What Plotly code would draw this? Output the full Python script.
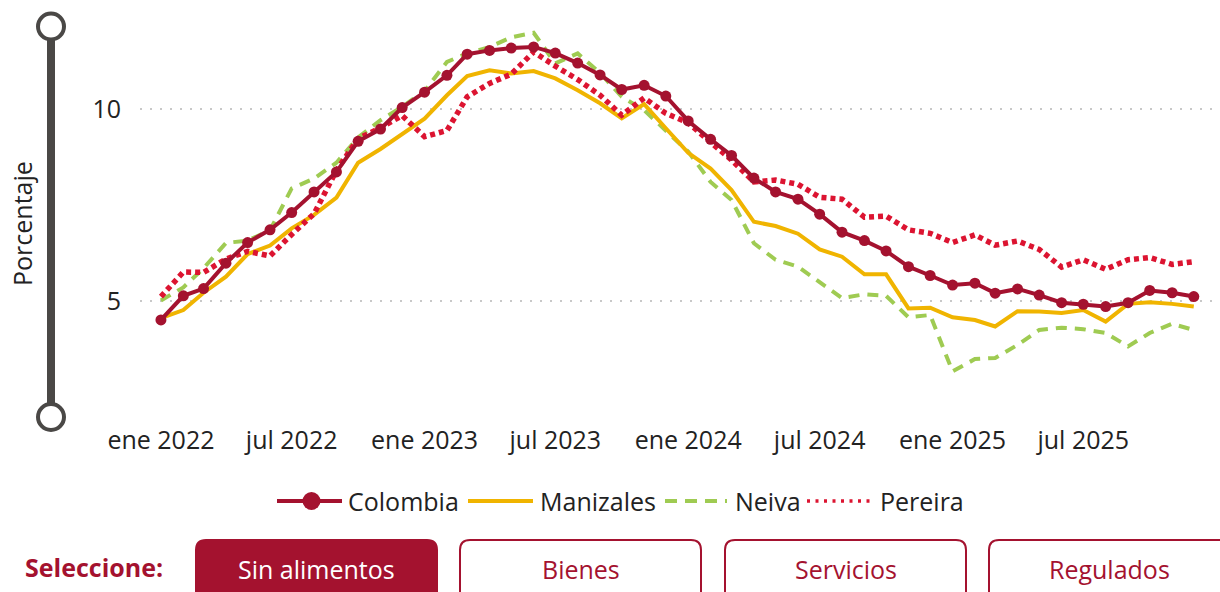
import pandas as pd
import plotly.graph_objects as go

# ---------------- data ----------------
months = pd.date_range("2022-01-01", "2025-12-01", freq="MS").strftime("%Y-%m-%d").tolist()

colombia = [4.51, 5.14, 5.33, 5.99, 6.53, 6.86, 7.31, 7.85, 8.37, 9.17, 9.49, 10.05,
            10.45, 10.89, 11.44, 11.54, 11.60, 11.63, 11.47, 11.21, 10.90, 10.52, 10.63, 10.35,
            9.70, 9.22, 8.80, 8.21, 7.85, 7.66, 7.27, 6.80, 6.58, 6.31, 5.90, 5.67,
            5.42, 5.47, 5.21, 5.32, 5.16, 4.96, 4.92, 4.86, 4.96, 5.28, 5.22, 5.12]

manizales = [4.56, 4.77, 5.22, 5.64, 6.23, 6.45, 6.90, 7.25, 7.70, 8.61, 8.97, 9.35,
             9.76, 10.37, 10.87, 11.02, 10.94, 11.00, 10.81, 10.50, 10.16, 9.77, 10.14, 9.51,
             8.87, 8.46, 7.90, 7.07, 6.96, 6.76, 6.35, 6.16, 5.70, 5.70, 4.81, 4.83,
             4.58, 4.51, 4.34, 4.74, 4.73, 4.69, 4.77, 4.47, 4.93, 4.97, 4.93, 4.86]

neiva = [5.02, 5.36, 5.86, 6.52, 6.58, 6.85, 7.94, 8.20, 8.61, 9.27, 9.72, 10.07,
         10.48, 11.24, 11.46, 11.63, 11.88, 12.00, 11.20, 11.46, 10.95, 10.33, 9.98, 9.46,
         8.90, 8.11, 7.64, 6.51, 6.08, 5.90, 5.51, 5.08, 5.18, 5.14, 4.58, 4.64,
         3.17, 3.49, 3.52, 3.86, 4.25, 4.31, 4.27, 4.17, 3.82, 4.17, 4.41, 4.25]

pereira = [5.12, 5.76, 5.75, 6.10, 6.30, 6.18, 6.74, 7.28, 8.41, 9.24, 9.52, 9.84,
           9.29, 9.45, 10.33, 10.68, 10.92, 11.50, 11.13, 10.78, 10.37, 9.85, 10.30, 9.90,
           9.65, 9.16, 8.68, 8.11, 8.16, 8.05, 7.71, 7.66, 7.19, 7.22, 6.86, 6.77,
           6.53, 6.73, 6.46, 6.57, 6.35, 5.89, 6.08, 5.83, 6.08, 6.14, 5.96, 6.03]

tick_dates = ["2022-01-01", "2022-07-01", "2023-01-01", "2023-07-01",
              "2024-01-01", "2024-07-01", "2025-01-01", "2025-07-01"]
tick_labels = ["ene 2022", "jul 2022", "ene 2023", "jul 2023",
               "ene 2024", "jul 2024", "ene 2025", "jul 2025"]

series_names = ["Colombia", "Manizales", "Neiva", "Pereira"]
buttons = ["Sin alimentos", "Bienes", "Servicios", "Regulados"]

# ---------------- style ----------------
W, H = 1220, 592
L, R, T, B = 140, 1214, 27, 417
FONT = "Open Sans"
FS = 25
C_COL = "#a4122f"
C_MAN = "#f0b400"
C_NEI = "#9fcb52"
C_PER = "#dc1431"
TXT = "#222222"
AXC = "#4a4846"


def px(x):
    return (x - L) / (R - L)


def py(y):
    return (B - y) / (B - T)


fig = go.Figure()
fig.add_trace(go.Scatter(x=months, y=neiva, name=series_names[2], mode="lines",
                         line=dict(color=C_NEI, width=4, dash="11px,8px"), showlegend=False))
fig.add_trace(go.Scatter(x=months, y=manizales, name=series_names[1], mode="lines",
                         line=dict(color=C_MAN, width=4), showlegend=False))
fig.add_trace(go.Scatter(x=months, y=pereira, name=series_names[3], mode="lines",
                         line=dict(color=C_PER, width=5.5, dash="5px,4px"), showlegend=False))
fig.add_trace(go.Scatter(x=months, y=colombia, name=series_names[0], mode="lines+markers",
                         line=dict(color=C_COL, width=4),
                         marker=dict(color=C_COL, size=11), showlegend=False))

shapes = []
annotations = []

# decorative y-axis bar with end circles
shapes.append(dict(type="line", xref="paper", yref="paper",
                   x0=px(51), x1=px(51), y0=py(40), y1=py(404),
                   line=dict(color=AXC, width=8)))
for cy in (26.5, 417):
    r = 13
    shapes.append(dict(type="circle", xref="paper", yref="paper",
                       x0=px(51 - r), x1=px(51 + r), y0=py(cy + r), y1=py(cy - r),
                       line=dict(color=AXC, width=4), fillcolor="white"))

# y-axis title
annotations.append(dict(text="Porcentaje", xref="paper", yref="paper",
                        x=px(22), y=py(224), textangle=-90, showarrow=False,
                        xanchor="center", yanchor="middle",
                        font=dict(family=FONT, size=FS, color=TXT)))

# legend (drawn)
LY = 501
leg = [
    (series_names[0], 277, 342, dict(color=C_COL, width=4), 346),
    (series_names[1], 468, 533, dict(color=C_MAN, width=4), 538),
    (series_names[2], 665, 727, dict(color=C_NEI, width=4, dash="12px,8px"), 733),
    (series_names[3], 807, 871, dict(color=C_PER, width=3.5, dash="3px,5.5px"), 878),
]
for name, x0, x1, ln, tx in leg:
    shapes.append(dict(type="line", xref="paper", yref="paper",
                       x0=px(x0), x1=px(x1), y0=py(LY), y1=py(LY), line=ln))
    annotations.append(dict(text=name, xref="paper", yref="paper", x=px(tx), y=py(LY),
                            xanchor="left", yanchor="middle", showarrow=False,
                            font=dict(family=FONT, size=FS, color=TXT)))
mr = 9
shapes.append(dict(type="circle", xref="paper", yref="paper",
                   x0=px(311.5 - mr), x1=px(311.5 + mr), y0=py(LY + mr), y1=py(LY - mr),
                   line=dict(color=C_COL, width=0), fillcolor=C_COL))


# buttons
def rrect(x0, y0, x1, y1, r):
    pts = [("M", [(x0 + r, y0)]), ("L", [(x1 - r, y0)]), ("Q", [(x1, y0), (x1, y0 + r)]),
           ("L", [(x1, y1 - r)]), ("Q", [(x1, y1), (x1 - r, y1)]), ("L", [(x0 + r, y1)]),
           ("Q", [(x0, y1), (x0, y1 - r)]), ("L", [(x0, y0 + r)]), ("Q", [(x0, y0), (x0 + r, y0)])]
    s = ""
    for cmd, ps in pts:
        s += cmd + " " + " ".join(f"{px(a):.5f},{py(b):.5f}" for a, b in ps) + " "
    return s + "Z"


annotations.append(dict(text="<b>Seleccione:</b>", xref="paper", yref="paper",
                        x=px(94), y=py(567), xanchor="center", yanchor="middle", showarrow=False,
                        font=dict(family=FONT, size=FS, color=C_COL)))
bx = [195, 459, 724, 988]
bw = 243
for i, (lab, x0) in enumerate(zip(buttons, bx)):
    active = i == 0
    shapes.append(dict(type="path", xref="paper", yref="paper",
                       path=rrect(x0 + 1, 540, x0 + bw - 1, 606, 10),
                       fillcolor=C_COL if active else "white",
                       line=dict(color=C_COL, width=2)))
    annotations.append(dict(text=lab, xref="paper", yref="paper",
                            x=px(x0 + bw / 2), y=py(569), xanchor="center", yanchor="middle",
                            showarrow=False,
                            font=dict(family=FONT, size=FS, color="white" if active else C_COL)))

fig.update_layout(
    width=W, height=H,
    margin=dict(l=L, r=W - R, t=T, b=H - B, pad=0),
    paper_bgcolor="white", plot_bgcolor="white",
    showlegend=False,
    shapes=shapes, annotations=annotations,
    font=dict(family=FONT, size=FS, color=TXT),
    xaxis=dict(type="date", range=["2021-12-03", "2025-12-29"],
               tickvals=tick_dates, ticktext=tick_labels,
               showgrid=False, zeroline=False, showline=False, ticks="",
               ticklabelstandoff=6, automargin=False,
               tickfont=dict(family=FONT, size=FS, color=TXT)),
    yaxis=dict(range=[1.98, 12.15], tickvals=[5, 10], ticktext=["5", "10"],
               showgrid=True, gridcolor="#c8c8c8", gridwidth=2, griddash="2px,8px",
               zeroline=False, showline=False, ticks="",
               ticklabelstandoff=18, automargin=False,
               tickfont=dict(family=FONT, size=FS, color=TXT)),
)

fig.write_html("out.html", config={"displayModeBar": False},
               post_script="document.body.style.margin='0';")
